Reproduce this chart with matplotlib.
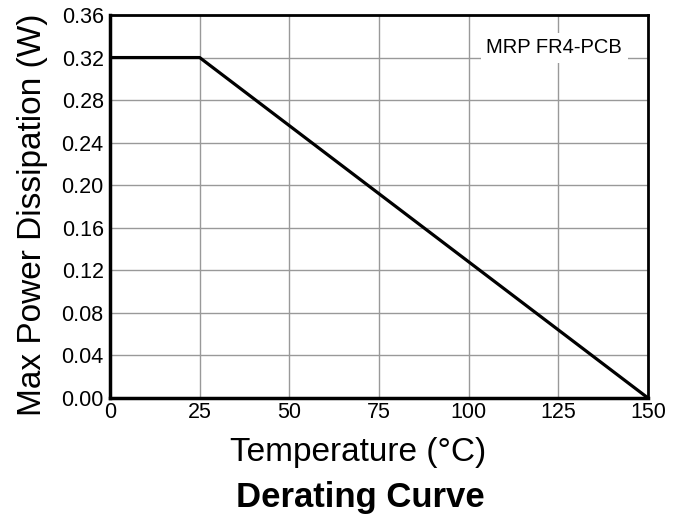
import matplotlib
matplotlib.use("Agg")
import matplotlib.pyplot as plt

temps = [0, 25, 150]
power = [0.32, 0.32, 0.0]
xticks = [0, 25, 50, 75, 100, 125, 150]
yticks = [0.00, 0.04, 0.08, 0.12, 0.16, 0.20, 0.24, 0.28, 0.32, 0.36]

plt.rcParams['font.family'] = ['Liberation Sans', 'DejaVu Sans']
W, H = 683, 518
fig = plt.figure(figsize=(W/100, H/100), dpi=100)
L, R, T, B = 110, 648, 15, 398
ax = fig.add_axes([L/W, 1-B/H, (R-L)/W, (B-T)/H])
ax.plot(temps, power, color='black', lw=2.3, solid_capstyle='butt', zorder=3, clip_on=False)
ax.set_xlim(0, 150)
ax.set_ylim(0, 0.36)
ax.set_xticks(xticks)
ax.set_yticks(yticks)
ax.set_xticklabels([str(t) for t in xticks])
ax.set_yticklabels([f"{v:.2f}" for v in yticks])
ax.tick_params(length=0, labelsize=15.5)
ax.tick_params(axis='y', pad=4.5)
ax.tick_params(axis='x', pad=3)
ax.grid(True, color='#999999', lw=1)
ax.set_axisbelow(True)
for s in ['left', 'bottom']:
    ax.spines[s].set_linewidth(2.5)
for s in ['top', 'right']:
    ax.spines[s].set_linewidth(2.0)

ax.set_xlabel('Temperature (°C)', fontsize=24)
ax.xaxis.label.set_va('baseline')
ax.xaxis.set_label_coords((358-L)/(R-L), (B-461)/(B-T))

ax.set_ylabel('Max Power Dissipation (W)', fontsize=24)
ax.yaxis.label.set_va('baseline')
ax.yaxis.set_label_coords((41-L)/(R-L), (B-215)/(B-T))

ax.text(123.8, 0.329, 'MRP FR4-PCB', ha='center', va='center', fontsize=14.5,
        bbox=dict(facecolor='white', edgecolor='none', pad=4), zorder=4)
fig.text(360/W, 1-507/H, 'Derating Curve', ha='center', va='baseline',
         fontsize=25, fontweight='bold')
fig.savefig('out.png', dpi=100)
